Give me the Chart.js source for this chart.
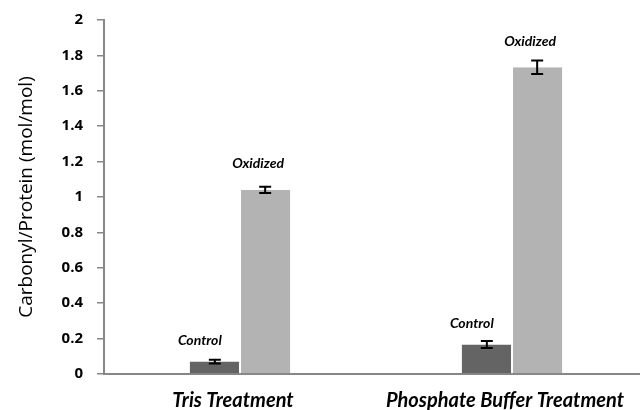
<!DOCTYPE html>
<html><head><meta charset="utf-8">
<script src="https://cdn.jsdelivr.net/npm/chart.js@4/dist/chart.umd.min.js"></script>
<style>html,body{margin:0;padding:0;background:#fff;overflow:hidden;width:640px;height:410px}</style>
</head><body>
<canvas id="c" width="660" height="410" style="width:660px;height:410px;display:block"></canvas>
<script>
const categories = ["Tris Treatment", "Phosphate Buffer Treatment"];
const seriesNames = ["Control", "Oxidized"];
const controlValues = [0.07, 0.167];
const oxidizedValues = [1.04, 1.733];
const controlErrors = [0.01, 0.02];
const oxidizedErrors = [0.018, 0.038];
const yTicks = [0, 0.2, 0.4, 0.6, 0.8, 1, 1.2, 1.4, 1.6, 1.8, 2];

const errorPlugin = {
  id: 'errs',
  afterDatasetsDraw(chart) {
    const ctx = chart.ctx, y = chart.scales.y;
    const errs = [controlErrors, oxidizedErrors];
    const labelDx = [-15, -7];
    const labelDy = [-21, -26];
    chart.data.datasets.forEach((ds, di) => {
      const meta = chart.getDatasetMeta(di);
      meta.data.forEach((bar, i) => {
        const v = ds.data[i], e = errs[di][i];
        const x = bar.x;
        const yt = y.getPixelForValue(v + e), yb = y.getPixelForValue(v - e);
        ctx.save();
        ctx.strokeStyle = '#000'; ctx.lineWidth = 2;
        ctx.beginPath();
        ctx.moveTo(x, yt); ctx.lineTo(x, yb);
        ctx.moveTo(x - 6, yt); ctx.lineTo(x + 6, yt);
        ctx.moveTo(x - 6, yb); ctx.lineTo(x + 6, yb);
        ctx.stroke();
        ctx.fillStyle = '#000';
        ctx.font = 'italic bold 14px Lato';
        ctx.textAlign = 'center'; ctx.textBaseline = 'middle';
        ctx.fillText(seriesNames[di], x + labelDx[di], y.getPixelForValue(v) + labelDy[di]);
        ctx.restore();
      });
    });
  }
};

new Chart(document.getElementById('c'), {
  type: 'bar',
  data: {
    labels: categories,
    datasets: [
      { label: seriesNames[0], data: controlValues, backgroundColor: '#646464', borderColor: '#fff', borderWidth: {left:0,right:1,top:0,bottom:0}, categoryPercentage: 0.37, barPercentage: 1 },
      { label: seriesNames[1], data: oxidizedValues, backgroundColor: '#b3b3b3', borderColor: '#fff', borderWidth: {left:1,right:0,top:0,bottom:0}, categoryPercentage: 0.37, barPercentage: 1 }
    ]
  },
  options: {
    responsive: false, animation: false,
    layout: { padding: { left: 0, right: 12, top: 20, bottom: 0 } },
    plugins: { legend: { display: false }, tooltip: { enabled: false } },
    scales: {
      x: {
        grid: { drawOnChartArea: false, drawTicks: false },
        border: { color: '#878787', width: 2 },
        ticks: { color: '#000', font: { family: 'Lato', size: 20, weight: 'bold', style: 'italic' }, padding: 15, labelOffset: -7 },
        afterFit(s) { s.height = 36; s.paddingLeft = 0; s.paddingRight = 0; }
      },
      y: {
        min: 0, max: 2,
        afterBuildTicks(s) { s.ticks = yTicks.map(v => ({ value: v })); },
        grid: { drawOnChartArea: false, drawTicks: true, tickLength: 7, color: '#878787', lineWidth: 1.5 },
        border: { color: '#878787', width: 2 },
        ticks: { color: '#000', font: { family: 'Open Sans', size: 15, weight: 'bold' }, padding: 14, callback: v => String(v) },
        title: { display: true, text: 'Carbonyl/Protein (mol/mol)', color: '#000', font: { family: 'Open Sans', size: 19 }, padding: { top: 15, bottom: 0 } },
        afterFit(s) { s.width = 104; s.paddingTop = 0; s.paddingBottom = 0; }
      }
    }
  },
  plugins: [errorPlugin]
});
</script>
</body></html>
